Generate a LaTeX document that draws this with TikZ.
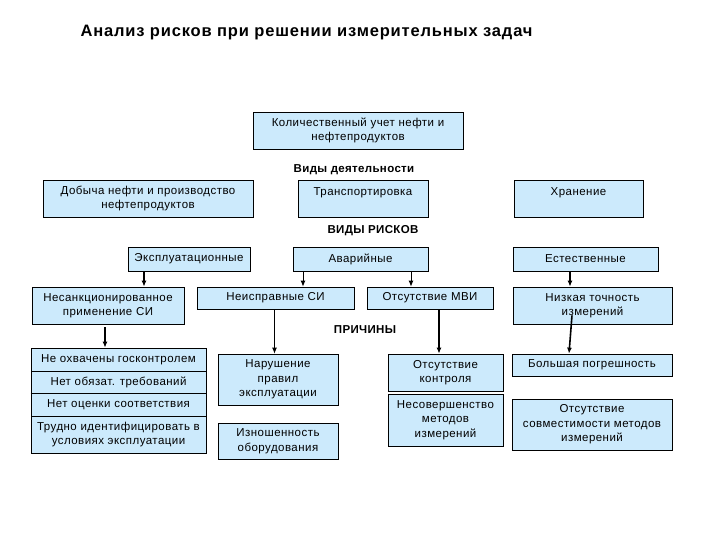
\documentclass[tikz,border=0pt]{standalone}
\usepackage{fontspec}
\setmainfont{Liberation Sans}
\newfontfamily\spacedfam[LetterSpace=4]{Liberation Sans}
\newfontfamily\headfam[LetterSpace=3]{Liberation Sans}
\newfontfamily\titlefam[LetterSpace=5]{Liberation Sans}
\usepackage{tikz}
\usetikzlibrary{arrows.meta}
\definecolor{boxblue}{RGB}{204,234,252}
\def\boxfont{\spacedfam\fontsize{11.5}{14.5}\selectfont}
\def\headfont{\headfam\fontsize{11.5}{13}\selectfont\bfseries}
\def\titlefont{\titlefam\fontsize{16.5}{19}\selectfont\bfseries}
\tikzset{
  box/.style={draw=black, line width=0.7pt, fill=boxblue, align=center, inner sep=0pt, font=\boxfont},
  head/.style={font=\headfont},
  thinarr/.style={line width=0.9pt, -{Latex[length=6pt,width=5pt]}},
  thickarr/.style={line width=1.6pt, -{Latex[length=6pt,width=5pt]}}
}

\begin{document}
\begin{tikzpicture}[x=1pt,y=-1pt]
  \useasboundingbox (0,0) rectangle (720,540);
  \node[font=\titlefont, anchor=west] (title) at (77,33) {Анализ рисков при решении измерительных задач};
  % accounting and kinds of activity
  \node[box, minimum width=210pt, minimum height=37pt] (qty) at (358,130.5) {Количественный учет нефти и\\нефтепродуктов};
  \node[head] (acts) at (354,170) {Виды деятельности};
  \node[box, minimum width=210pt, minimum height=37pt] (prod) at (148,198.5) {Добыча нефти и производство\\нефтепродуктов};
  \node[box, minimum width=130pt, minimum height=37pt] (trans) at (363,198.5) {Транспортировка\\\mbox{}};
  \node[box, minimum width=129pt, minimum height=37pt] (store) at (578.5,198.5) {Хранение\\\mbox{}};
  % kinds of risk
  \node[head] (risks) at (373,231) {ВИДЫ РИСКОВ};
  \node[box, minimum width=122pt, minimum height=24pt] (expl) at (189,259) {Эксплуатационные};
  \node[box, minimum width=135pt, minimum height=24pt] (avar) at (360.5,259) {Аварийные};
  \node[box, minimum width=145pt, minimum height=24pt] (natur) at (585.5,259) {Естественные};
  \node[box, minimum width=152pt, minimum height=37pt] (unauth) at (108,305.5) {Несанкционированное\\применение СИ};
  \node[box, minimum width=157pt, minimum height=22pt] (faulty) at (275.5,298) {Неисправные СИ};
  \node[box, minimum width=126pt, minimum height=22pt] (nomvi) at (430,298) {Отсутствие МВИ};
  \node[box, minimum width=159pt, minimum height=37pt] (lowacc) at (592.5,305.5) {Низкая точность\\измерений};
  % causes
  \node[head] (causes) at (365,330) {ПРИЧИНЫ};
  \node[box, minimum width=175pt, minimum height=23pt] (r1) at (118.5,359.5) {Не охвачены госконтролем};
  \node[box, minimum width=175pt, minimum height=22pt] (r2) at (118.5,382) {Нет обязат. требований};
  \node[box, minimum width=175pt, minimum height=23pt] (r3) at (118.5,404.5) {Нет оценки соответствия};
  \node[box, minimum width=175pt, minimum height=37pt] (r4) at (118.5,434.5) {Трудно идентифицировать в\\условиях эксплуатации};
  \draw[line width=1.6pt] (r2.south west) -- (r2.south east);
  \node[box, minimum width=120pt, minimum height=51pt] (viol) at (278,379.5) {Нарушение\\правил\\эксплуатации};
  \node[box, minimum width=120pt, minimum height=36pt] (wear) at (278,441) {Изношенность\\оборудования};
  \node[box, minimum width=115pt, minimum height=37pt] (noctl) at (445.5,372.5) {Отсутствие\\контроля};
  \node[box, minimum width=115pt, minimum height=52pt] (imperf) at (445.5,420) {Несовершенство\\методов\\измерений};
  \node[box, minimum width=160pt, minimum height=22pt] (bigerr) at (592,365) {Большая погрешность};
  \node[box, minimum width=160pt, minimum height=51pt] (incomp) at (592,424.5) {Отсутствие\\совместимости методов\\измерений};
  % arrows
  \draw[thickarr] ([xshift=-45pt]expl.south) -- ([xshift=-45pt]expl.south |- unauth.north);
  \draw[thinarr] ([xshift=-57.5pt]avar.south) -- ([xshift=-57.5pt]avar.south |- faulty.north);
  \draw[thinarr] ([xshift=50.5pt]avar.south) -- ([xshift=50.5pt]avar.south |- nomvi.north);
  \draw[thickarr] ([xshift=-15.5pt]natur.south) -- ([xshift=-15.5pt]natur.south |- lowacc.north);
  \draw[thickarr] ([xshift=-3pt,yshift=-3pt]unauth.south) -- ([xshift=-3pt]unauth.south |- r1.north);
  \draw[thinarr] ([xshift=-1pt]faulty.south) -- ([xshift=-1pt]faulty.south |- viol.north);
  \draw[thickarr] ([xshift=9pt]nomvi.south) -- ([xshift=9pt]nomvi.south |- noctl.north);
  \draw[thickarr] ([xshift=-20.5pt,yshift=9pt]lowacc.south) -- ([xshift=-23pt]bigerr.north);
\end{tikzpicture}
\end{document}
